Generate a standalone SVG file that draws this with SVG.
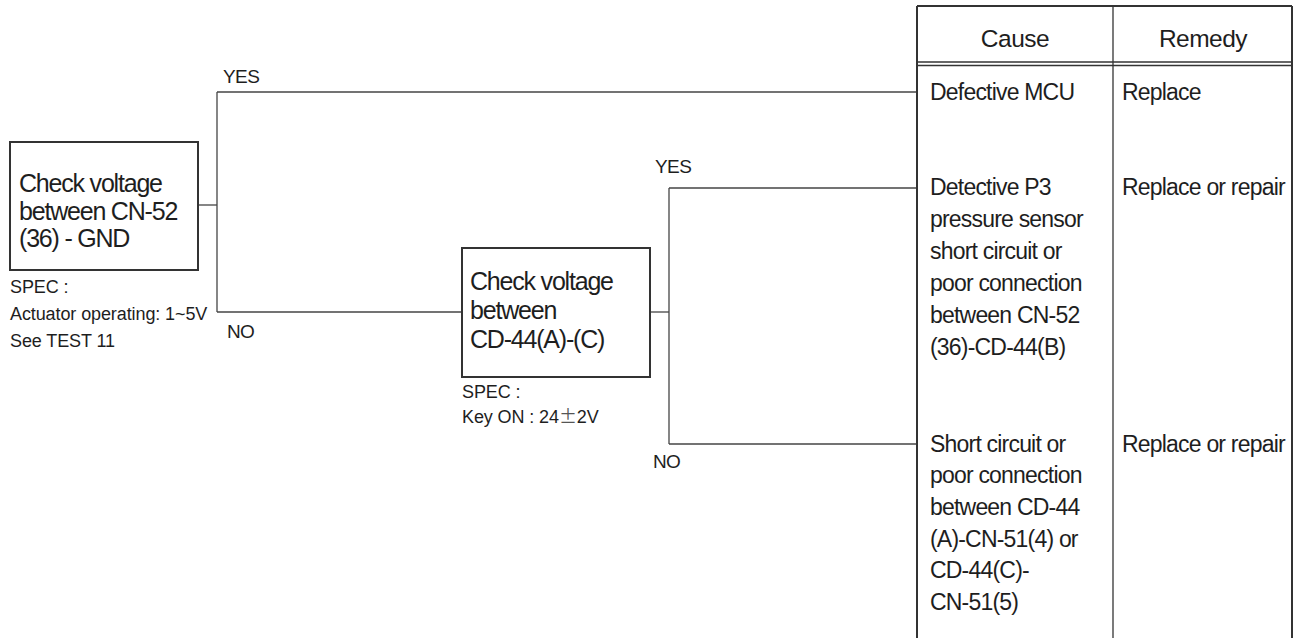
<svg xmlns="http://www.w3.org/2000/svg" width="1300" height="638" viewBox="0 0 1300 638">
<style>
text{font-family:"Liberation Sans",Arial,sans-serif;fill:#1e1e1e}
.box{fill:#fff;stroke:#333;stroke-width:2}
.bt{font-size:25px;letter-spacing:-1.2px}
.tt{font-size:23px;letter-spacing:-0.8px}
.ht{font-size:24.5px;letter-spacing:-0.5px;text-anchor:middle}
.sm{font-size:18px;letter-spacing:-0.1px}
.conn line{stroke:#444;stroke-width:1.3}
.tb{stroke:#333;fill:none}
</style>
<rect width="1300" height="638" fill="#fff"/>
<g id="connectors" class="conn">
<line x1="198" y1="205" x2="217" y2="205"/>
<line x1="217" y1="92" x2="217" y2="312"/>
<line x1="217" y1="92" x2="917" y2="92"/>
<line x1="217" y1="312" x2="462" y2="312"/>
<line x1="650" y1="312" x2="669" y2="312"/>
<line x1="669" y1="188" x2="669" y2="444"/>
<line x1="669" y1="188" x2="917" y2="188"/>
<line x1="669" y1="444" x2="917" y2="444"/>
</g>
<g id="labels" class="sm">
<text x="223" y="83" font-size="19" letter-spacing="-0.6">YES</text>
<text x="227" y="338" font-size="19" letter-spacing="-0.6">NO</text>
<text x="655" y="173" font-size="19" letter-spacing="-0.6">YES</text>
<text x="653" y="468" font-size="19" letter-spacing="-0.6">NO</text>
</g>
<g id="check1">
<rect class="box" x="10" y="142" width="188" height="128"/>
<text class="bt" x="19" y="192">Check voltage</text>
<text class="bt" x="19" y="220">between CN-52</text>
<text class="bt" x="19" y="247">(36) - GND</text>
<text class="sm" x="10" y="293">SPEC :</text>
<text class="sm" x="10" y="320">Actuator operating: 1~5V</text>
<text class="sm" x="10" y="347">See TEST 11</text>
</g>
<g id="check2">
<rect class="box" x="462" y="248" width="188" height="129"/>
<text class="bt" x="470" y="290">Check voltage</text>
<text class="bt" x="470" y="319">between</text>
<text class="bt" x="470" y="348">CD-44(A)-(C)</text>
<text class="sm" x="462" y="398">SPEC :</text>
<text class="sm" x="462" y="423">Key ON : 24<tspan font-family="'Noto Sans CJK JP',sans-serif" fill="#555">±</tspan>2V</text>
</g>
<g id="table">
<line class="tb" x1="917" y1="6" x2="917" y2="638" stroke-width="2"/>
<line class="tb" x1="1292" y1="6" x2="1292" y2="638" stroke-width="2"/>
<line class="tb" x1="917" y1="6" x2="1292" y2="6" stroke-width="2"/>
<line class="tb" x1="1113" y1="6" x2="1113" y2="638" stroke-width="1.3"/>
<line class="tb" x1="917" y1="62" x2="1292" y2="62" stroke-width="1.3"/>
<line class="tb" x1="917" y1="65.5" x2="1292" y2="65.5" stroke-width="1.3"/>
<text class="ht" x="1015" y="47">Cause</text>
<text class="ht" x="1203" y="47">Remedy</text>
</g>
<g id="cause1">
<text class="tt" x="930" y="100">Defective MCU</text>
<text class="tt" x="1122" y="100">Replace</text>
</g>
<g id="cause2">
<text class="tt" x="930" y="195">Detective P3</text>
<text class="tt" x="930" y="227">pressure sensor</text>
<text class="tt" x="930" y="259">short circuit or</text>
<text class="tt" x="930" y="291">poor connection</text>
<text class="tt" x="930" y="323">between CN-52</text>
<text class="tt" x="930" y="355">(36)-CD-44(B)</text>
<text class="tt" x="1122" y="195">Replace or repair</text>
</g>
<g id="cause3">
<text class="tt" x="930" y="452">Short circuit or</text>
<text class="tt" x="930" y="483">poor connection</text>
<text class="tt" x="930" y="515">between CD-44</text>
<text class="tt" x="930" y="547">(A)-CN-51(4) or</text>
<text class="tt" x="930" y="578">CD-44(C)-</text>
<text class="tt" x="930" y="610">CN-51(5)</text>
<text class="tt" x="1122" y="452">Replace or repair</text>
</g>
</svg>
